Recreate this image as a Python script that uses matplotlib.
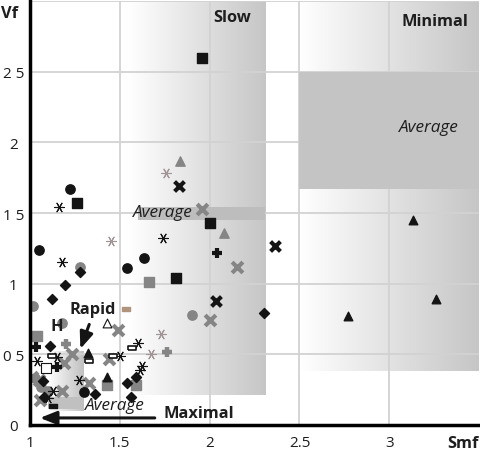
import numpy as np
import matplotlib.pyplot as plt
from matplotlib.colors import LinearSegmentedColormap

plt.rcParams['font.family'] = ['Open Sans', 'DejaVu Sans']

# (Smf, Vf) values, one pair of lists per marker style
blk_circle_x = [1.22, 1.05, 1.54, 1.635, 1.30]
blk_circle_y = [1.67, 1.24, 1.11, 1.18, 0.23]
blk_square_x = [1.96, 1.26, 2.00, 1.81]
blk_square_y = [2.60, 1.57, 1.43, 1.04]
blk_diamond_x = [1.28, 1.195, 1.12, 2.30, 1.11, 1.07, 1.08, 1.36, 1.54, 1.56, 1.59]
blk_diamond_y = [1.08, 0.99, 0.89, 0.79, 0.56, 0.31, 0.20, 0.22, 0.30, 0.20, 0.34]
blk_tri_x = [3.13, 3.26, 2.77, 1.325, 1.43]
blk_tri_y = [1.45, 0.89, 0.77, 0.51, 0.34]
blk_x_x = [1.83, 2.365, 2.035]
blk_x_y = [1.69, 1.27, 0.88]
blk_plus_x = [2.04, 1.035, 1.15]
blk_plus_y = [1.22, 0.55, 0.41]
blk_star_x = [1.16, 1.74, 1.18, 1.60, 1.50, 1.625, 1.61, 1.15, 1.04, 1.13, 1.27, 1.10]
blk_star_y = [1.54, 1.32, 1.15, 0.58, 0.49, 0.42, 0.39, 0.48, 0.45, 0.24, 0.32, 0.19]
gry_circle_x = [1.28, 1.017, 1.90, 1.18, 1.06, 1.10, 1.03]
gry_circle_y = [1.12, 0.84, 0.78, 0.72, 0.27, 0.24, 0.33]
gry_square_x = [1.66, 1.04, 1.43, 1.59]
gry_square_y = [1.01, 0.63, 0.28, 0.28]
gry_tri_x = [1.836, 2.08]
gry_tri_y = [1.865, 1.355]
gry_x_x = [1.958, 2.15, 2.00, 1.49, 1.44, 1.235, 1.01, 1.05, 1.18, 1.055, 1.19, 1.33]
gry_x_y = [1.525, 1.12, 0.74, 0.67, 0.47, 0.50, 0.34, 0.32, 0.24, 0.18, 0.44, 0.30]
gry_plus_x = [1.76, 1.20]
gry_plus_y = [0.52, 0.57]
gry_star_x = [1.757, 1.45, 1.73, 1.675]
gry_star_y = [1.78, 1.30, 0.645, 0.50]
open_tri_x = [1.43]
open_tri_y = [0.72]
open_sq_x = [1.09]
open_sq_y = [0.40]
bar_x = [1.57, 1.46, 1.12, 1.33]
bar_y = [0.545, 0.49, 0.49, 0.45]
dash_x = [1.13]
dash_y = [0.135]
tan_x = [1.535]
tan_y = [0.82]

yticks = [0, 0.5, 1, 1.5, 2, 2.5]
ytick_labels = ['0', '0 5', '1', '1 5', '2', '2 5']
xticks = [1, 1.5, 2, 2.5, 3]
xtick_labels = ['1', '1.5', '2', '2.5', '3']

BLK = '#141414'
GRY = '#858585'
LGRY = '#a09494'
SHADE = '#c4c4c4'
TXT = '#1e1e1e'

fig = plt.figure(figsize=(4.81, 4.56), dpi=100)
ax = fig.add_axes([0.0624, 0.0658, 0.9336, 0.9298])


def gradient(x0, x1, y0, y1, col):
    cmap = LinearSegmentedColormap.from_list('g', ['white', col])
    ax.imshow(np.linspace(0, 1, 256).reshape(1, -1), extent=(x0, x1, y0, y1),
              cmap=cmap, aspect='auto', zorder=1, interpolation='bilinear')


# zones
gradient(1.55, 2.31, 0.21, 3.0, '#c6c6c6')
gradient(2.5, 3.5, 0.38, 3.0, '#c6c6c6')
gradient(1.10, 1.30, 0.10, 0.52, '#c0c0c0')
ax.fill_between([2.5, 3.5], 1.67, 2.5, color=SHADE, lw=0, zorder=1.6)
ax.fill_between([1.60, 2.31], 1.45, 1.54, color='#bdbdbd', lw=0, zorder=1.6)
ax.fill_between([1.10, 1.30], 0.11, 0.20, color='#c0c0c0', lw=0, zorder=1.6)

ax.set_xlim(1, 3.5)
ax.set_ylim(0, 3)

for v in [1.5, 2, 2.5, 3]:
    ax.axvline(v, color='#d2d2d2', lw=1.3, zorder=1.5)
for v in [0.5, 1, 1.5, 2, 2.5, 3]:
    ax.axhline(v, color='#d2d2d2', lw=1.3, zorder=1.5)

# markers
rect = [(-1, -0.4), (1, -0.4), (1, 0.4), (-1, 0.4), (-1, -0.4)]
star = (6, 2, 90)
ax.scatter(blk_circle_x, blk_circle_y, s=45, marker='o', color=BLK, zorder=3)
ax.scatter(blk_square_x, blk_square_y, s=42, marker='s', color=BLK, zorder=3)
ax.scatter(blk_diamond_x, blk_diamond_y, s=26, marker='D', color=BLK, zorder=3)
ax.scatter(blk_tri_x, blk_tri_y, s=38, marker='^', color=BLK, zorder=3)
ax.scatter(blk_x_x, blk_x_y, s=50, marker='x', color=BLK, lw=3, zorder=3)
ax.scatter(blk_plus_x, blk_plus_y, s=45, marker='+', color=BLK, lw=3, zorder=3)
ax.scatter(blk_star_x, blk_star_y, s=50, marker=star, color=BLK, lw=0.8, zorder=3)
ax.scatter(gry_circle_x, gry_circle_y, s=45, marker='o', color=GRY, zorder=2.5)
ax.scatter(gry_square_x, gry_square_y, s=42, marker='s', color=GRY, zorder=2.5)
ax.scatter(gry_tri_x, gry_tri_y, s=45, marker='^', color=GRY, zorder=2.5)
ax.scatter(gry_x_x, gry_x_y, s=60, marker='x', color=GRY, lw=3, zorder=2.5)
ax.scatter(gry_plus_x, gry_plus_y, s=55, marker='+', color=GRY, lw=3.2, zorder=2.5)
ax.scatter(gry_star_x, gry_star_y, s=50, marker=star, color=LGRY, lw=0.8, zorder=2.5)
ax.scatter(open_tri_x, open_tri_y, s=40, marker='^', facecolor='white',
           edgecolor=BLK, lw=0.8, zorder=3)
ax.scatter(open_sq_x, open_sq_y, s=45, marker='s', facecolor='white',
           edgecolor=BLK, lw=0.8, zorder=3)
ax.scatter(bar_x, bar_y, s=40, marker=rect, facecolor='white',
           edgecolor=BLK, lw=1.2, zorder=3.2)
ax.scatter(dash_x, dash_y, s=40, marker=rect, color=BLK, zorder=3)
ax.scatter(tan_x, tan_y, s=30, marker=rect, color='#b0947e', zorder=3)

# labels
bold = dict(fontsize=11.8, fontweight='bold', ha='center', va='center', color=TXT, zorder=4)
ital = dict(fontsize=12.3, style='italic', ha='center', va='center', color=TXT, zorder=4)
ax.text(2.125, 2.89, 'Slow', **bold)
ax.text(3.256, 2.86, 'Minimal', **bold)
ax.text(3.22, 2.11, 'Average', **ital)
ax.text(1.74, 1.51, 'Average', **ital)
ax.text(1.47, 0.14, 'Average', **ital)
ax.text(1.94, 0.085, 'Maximal', **bold)
ax.text(1.35, 0.82, 'Rapid', **bold)
ax.text(1.15, 0.70, 'H', **bold)

ax.annotate('', xy=(1.04, 0.05), xytext=(1.71, 0.05),
            arrowprops=dict(arrowstyle='-|>,head_length=1.0,head_width=0.4',
                            color=BLK, lw=2.2), zorder=4)
ax.annotate('', xy=(1.275, 0.52), xytext=(1.335, 0.73),
            arrowprops=dict(arrowstyle='-|>,head_length=1.0,head_width=0.4',
                            color=BLK, lw=2.2), zorder=4)

ax.set_yticks(yticks)
ax.set_yticklabels(ytick_labels, ha='center')
ax.set_xticks(xticks)
ax.set_xticklabels(xtick_labels)
ax.tick_params(length=0, labelsize=11, colors=TXT)
ax.tick_params(axis='y', pad=12)
ax.tick_params(axis='x', pad=7)

ax.text(-0.045, 0.972, 'Vf', transform=ax.transAxes, fontsize=11.8,
        fontweight='bold', ha='center', va='center', color=TXT)
ax.text(3.41, -0.13, 'Smf', fontsize=11.8, fontweight='bold', ha='center',
        va='center', clip_on=False, color=TXT)

for s in ['top', 'right']:
    ax.spines[s].set_visible(False)
ax.spines['left'].set_linewidth(2.5)
ax.spines['bottom'].set_linewidth(2.5)
ax.spines['left'].set_zorder(5)
ax.spines['bottom'].set_zorder(5)

fig.savefig('out.png', dpi=100)
